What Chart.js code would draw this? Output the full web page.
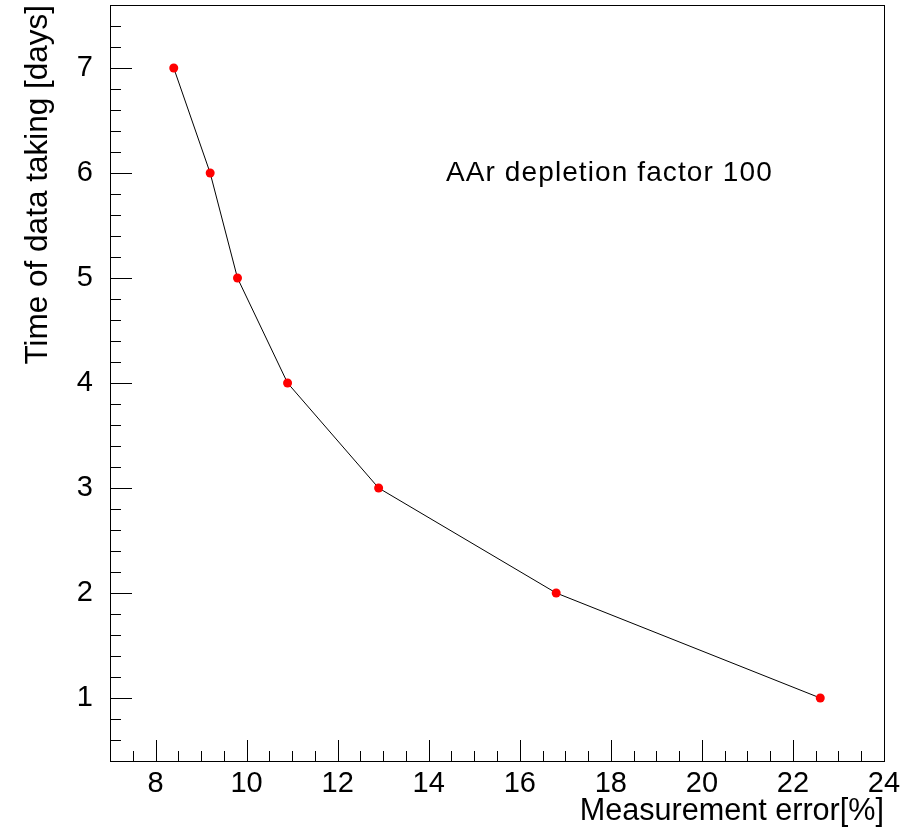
<!DOCTYPE html>
<html>
<head>
<meta charset="utf-8">
<script src="https://cdn.jsdelivr.net/npm/chart.js@4"></script>
<style>
  body { margin: 0; background: #fff; }
  canvas { display: block; }
</style>
</head>
<body>
<canvas id="plot" width="905" height="829"></canvas>
<script>
// measurement error [%] vs days of data taking
let errorPct = [8.4, 9.2, 9.8, 10.9, 12.9, 16.8, 22.6];
let days = [7, 6, 5, 4, 3, 2, 1];

let xTicks = [8, 10, 12, 14, 16, 18, 20, 22, 24];
let yTicks = [1, 2, 3, 4, 5, 6, 7];

let xMin = 7, xMax = 24;
let yMin = 0.4, yMax = 7.6;

let note = "AAr depletion factor 100";
let noteX = 14.38, noteY = 5.92;

let fontName = "'Liberation Sans', Arial, Helvetica, sans-serif";

// ROOT style frame with inside ticks
let frameTicks = {
    id: "frameTicks",
    afterDraw(chart) {
        let ctx = chart.ctx;
        let a = chart.chartArea;
        let xs = chart.scales.x;
        let ys = chart.scales.y;

        ctx.save();
        ctx.strokeStyle = "#000";
        ctx.lineWidth = 1;
        ctx.strokeRect(a.left + 0.5, a.top + 0.5, a.right - a.left, a.bottom - a.top);

        ctx.beginPath();
        // x ticks, major every 2, minor every 0.5
        for (let v = xMin; v <= xMax + 1e-9; v += 0.5) {
            let px = Math.round(xs.getPixelForValue(v)) + 0.5;
            let len = (Math.abs(v % 2) < 1e-9) ? 21 : 10;
            ctx.moveTo(px, a.bottom);
            ctx.lineTo(px, a.bottom - len);
        }
        // y ticks, major every 1, minor every 0.2
        for (let i = 0; i <= 36; i++) {
            let v = yMin + i * 0.2;
            let py = Math.round(ys.getPixelForValue(v)) + 0.5;
            let major = Math.abs(v - Math.round(v)) < 1e-6;
            let len = major ? 22 : 11;
            ctx.moveTo(a.left, py);
            ctx.lineTo(a.left + len, py);
        }
        ctx.stroke();

        ctx.fillStyle = "#000";
        ctx.font = "28px " + fontName;
        ctx.letterSpacing = "1.1px";
        ctx.textAlign = "left";
        ctx.textBaseline = "alphabetic";
        ctx.fillText(note, xs.getPixelForValue(noteX), ys.getPixelForValue(noteY));
        ctx.restore();
    }
};

new Chart(document.getElementById("plot").getContext("2d"), {
    type: "scatter",
    data: {
        datasets: [{
            data: errorPct.map((x, i) => ({ x: x, y: days[i] })),
            showLine: true,
            borderColor: "#000",
            borderWidth: 1,
            pointRadius: 4.5,
            pointBackgroundColor: "#ff0000",
            pointBorderWidth: 0,
            pointHoverRadius: 4.5
        }]
    },
    options: {
        responsive: false,
        animation: false,
        events: [],
        layout: { padding: { top: 5, right: 21, left: 0, bottom: 0 } },
        plugins: {
            legend: { display: false },
            tooltip: { enabled: false }
        },
        scales: {
            x: {
                type: "linear",
                min: xMin,
                max: xMax,
                grid: { display: false },
                border: { display: false },
                afterBuildTicks: s => { s.ticks = xTicks.map(v => ({ value: v })); },
                afterFit: s => { s.height = 68; s.paddingLeft = 0; s.paddingRight = 0; },
                ticks: {
                    color: "#000",
                    padding: -2,
                    maxRotation: 0,
                    font: { family: fontName, size: 29 }
                },
                title: {
                    display: true,
                    text: "Measurement error[%]",
                    align: "end",
                    color: "#000",
                    padding: { top: 0, bottom: 0 },
                    font: { family: fontName, size: 30.6, lineHeight: 1.15 }
                }
            },
            y: {
                type: "linear",
                min: yMin,
                max: yMax,
                grid: { display: false },
                border: { display: false },
                afterBuildTicks: s => { s.ticks = yTicks.map(v => ({ value: v })); },
                afterFit: s => { s.width = 110; s.paddingTop = 0; s.paddingBottom = 0; },
                ticks: {
                    color: "#000",
                    padding: 9,
                    font: { family: fontName, size: 29 }
                },
                title: {
                    display: true,
                    text: "Time of data taking [days]",
                    align: "end",
                    color: "#000",
                    padding: { top: 19, bottom: 0 },
                    font: { family: fontName, size: 31.5 }
                }
            }
        }
    },
    plugins: [frameTicks]
});
</script>
</body>
</html>
